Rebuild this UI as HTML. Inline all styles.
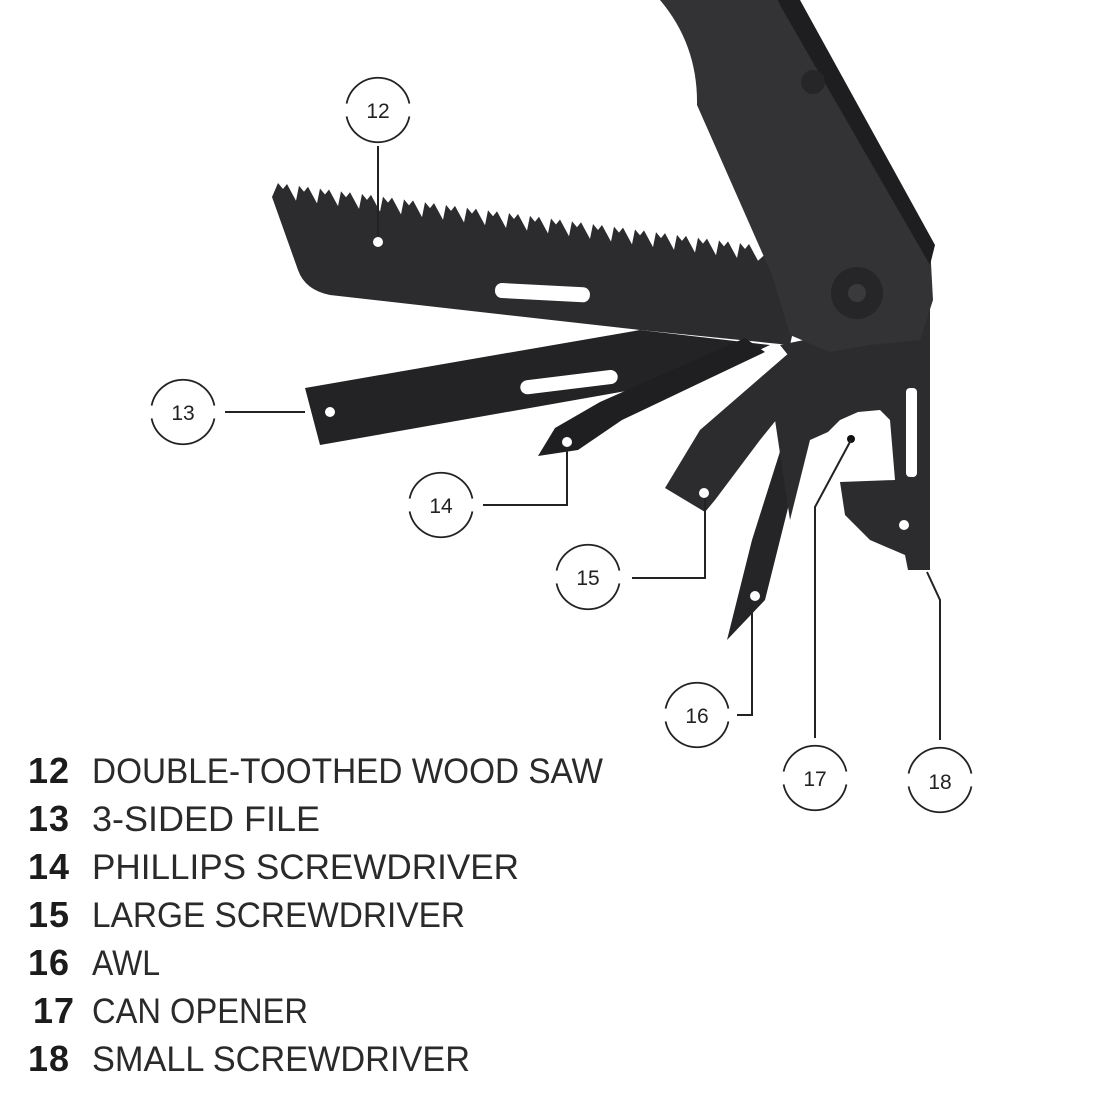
<!DOCTYPE html>
<html><head><meta charset="utf-8"><style>
html,body{margin:0;padding:0;background:#fff;}
svg{display:block;}
.n{font-family:"Liberation Sans",sans-serif;font-weight:bold;font-size:36px;fill:#1c1c1c;letter-spacing:1px;}
.t{font-family:"Liberation Sans",sans-serif;font-size:35px;fill:#2a2a2a;}
.c{font-family:"Liberation Sans",sans-serif;font-size:21px;fill:#222;}
</style></head><body>
<svg width="1100" height="1100" viewBox="0 0 1100 1100" xmlns="http://www.w3.org/2000/svg">
<g fill="#2c2c2f">
<path id="saw" d=""/>
<path d="M305,388 L640,330 L770,345 L700,378 L320,445 Z" fill="#232325"/>
<path d="M538,456 L555,428 L600,402 L745,338 L765,352 L622,420 L578,450 Z" fill="#1f1f21"/>
<path d="M665,488 L700,430 L790,352 L815,372 L760,440 L715,500 L705,512 Z"/>
<path d="M727,640 L752,540 L790,420 L812,418 L790,500 L765,600 Z" fill="#252527"/>
<path d="M780,345 L900,320 L925,290 L930,300 L930,570 L908,570 L905,555 L870,540 L845,515 L840,482 L895,480 L890,420 L880,410 L858,412 L840,420 L828,432 L810,440 L790,520 L775,420 L800,370 Z"/>
<path d="M660,0 L777,0 L930,245 L933,300 L920,340 L870,345 L830,352 L790,335 L772,275 L697,105 Q698,45 660,0 Z" fill="#333336"/>
<path d="M777,0 L800,0 L935,245 L930,265 Z" fill="#1e1e20"/>
<circle cx="857" cy="293" r="26" fill="#262628"/>
<circle cx="857" cy="293" r="9" fill="#3a3a3c"/>
<circle cx="813" cy="82" r="12" fill="#262628"/>
</g>
<g fill="#fff">
<rect x="495" y="285" width="95" height="15" rx="7" transform="rotate(3 540 292)"/>
<rect x="520" y="375" width="98" height="14" rx="7" transform="rotate(-7 570 382)"/>
<rect x="906" y="388" width="11" height="89" rx="4"/>
<path d="M845,430 L860,412 L880,414 L890,430 L893,478 L850,480 L830,470 Z"/>
<circle cx="378" cy="242" r="5"/><circle cx="330" cy="412" r="5"/><circle cx="567" cy="442" r="5"/>
<circle cx="704" cy="493" r="5"/><circle cx="755" cy="596" r="5"/><circle cx="904" cy="525" r="5"/>
</g>
<circle cx="851" cy="439" r="4" fill="#111"/>
<g stroke="#222" stroke-width="2" fill="none">
<path d="M378,146 V236"/>
<path d="M225,412 H305"/>
<path d="M483,505 H567 V447"/>
<path d="M632,578 H705 V498"/>
<path d="M737,715 H752 V602"/>
<path d="M815,738 V507 L851,440"/>
<path d="M940,740 V600 L927,572"/>
</g>
<g stroke="#222" stroke-width="1.8" fill="none" id="circs"></g>
<g class="c" text-anchor="middle">
<text x="378" y="118">12</text><text x="183" y="420">13</text><text x="441" y="513">14</text>
<text x="588" y="585">15</text><text x="697" y="723">16</text><text x="815" y="786">17</text><text x="940" y="789">18</text>
</g>
<g class="n">
<text x="28" y="783">12</text><text x="28" y="831">13</text>
<text x="28" y="879">14</text><text x="28" y="927">15</text>
<text x="28" y="975">16</text><text x="33" y="1023">17</text>
<text x="28" y="1071">18</text>
</g>
<g class="t">
<text x="92" y="783" textLength="511" lengthAdjust="spacingAndGlyphs">DOUBLE-TOOTHED WOOD SAW</text>
<text x="92" y="831" textLength="228" lengthAdjust="spacingAndGlyphs">3-SIDED FILE</text>
<text x="92" y="879" textLength="427" lengthAdjust="spacingAndGlyphs">PHILLIPS SCREWDRIVER</text>
<text x="92" y="927" textLength="373" lengthAdjust="spacingAndGlyphs">LARGE SCREWDRIVER</text>
<text x="92" y="975" textLength="68" lengthAdjust="spacingAndGlyphs">AWL</text>
<text x="92" y="1023" textLength="216" lengthAdjust="spacingAndGlyphs">CAN OPENER</text>
<text x="92" y="1071" textLength="378" lengthAdjust="spacingAndGlyphs">SMALL SCREWDRIVER</text>
</g>
</svg>
<script>
(function(){
var d="M272,197 ";
var x=275;
for(var i=0;i<23;i++){
 var yb=198+0.13*(x-275);
 d+="L"+(x+3)+","+(yb-15)+" L"+(x+8)+","+(yb-9)+" L"+(x+12)+","+(yb-14)+" L"+(x+21)+","+(yb+2.7)+" ";
 x+=21;
}
d+="L770,250 L800,300 L790,345 L640,330 L330,295 Q305,290 298,270 Z";
document.getElementById('saw').setAttribute('d',d);
var cs=[[378,110],[183,412],[441,505],[588,577],[697,715],[815,778],[940,780]];
var g=document.getElementById('circs'),r=32,h="";
cs.forEach(function(c){
 var a=0.2, x=c[0],y=c[1];
 function p(t){return (x+r*Math.cos(t)).toFixed(1)+","+(y+r*Math.sin(t)).toFixed(1);}
 h+='<path d="M'+p(a)+' A'+r+','+r+' 0 0 1 '+p(Math.PI-a)+'"/>';
 h+='<path d="M'+p(Math.PI+a)+' A'+r+','+r+' 0 0 1 '+p(2*Math.PI-a)+'"/>';
});
g.innerHTML=h;
})();
</script>
</body></html>
